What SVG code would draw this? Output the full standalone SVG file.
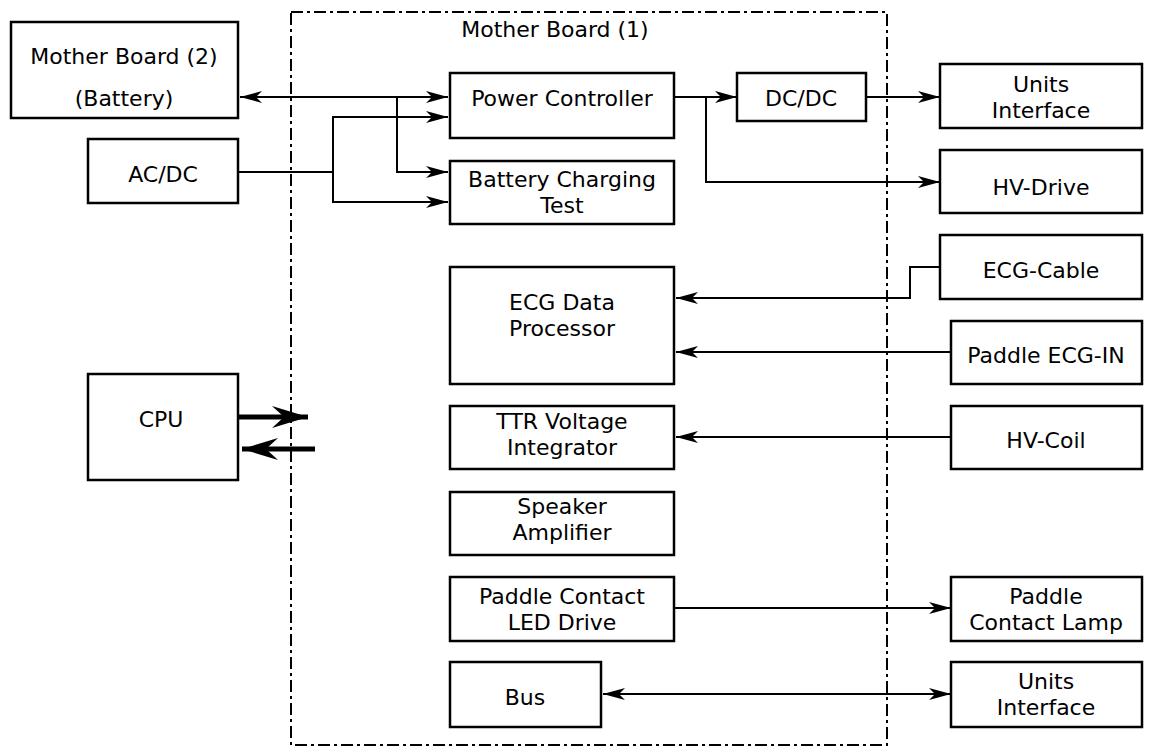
<svg xmlns="http://www.w3.org/2000/svg" width="1154" height="749" viewBox="0 0 1154 749">
<style>
.b{fill:#fff;stroke:#000;stroke-width:2.5}
.t{font-family:"DejaVu Sans","Open Sans",sans-serif;font-size:22px;fill:#000;text-anchor:middle}
.c{fill:none;stroke:#000;stroke-width:2}
.k{fill:none;stroke:#000;stroke-width:5}
.f{fill:none;stroke:#000;stroke-width:2;stroke-dasharray:12 4 3 4}
</style>
<defs>
<marker id="a" viewBox="0 0 22 12" refX="22" refY="6" markerWidth="22" markerHeight="12" markerUnits="userSpaceOnUse" orient="auto-start-reverse">
<path d="M0,0 L22,6 L0,12 L6,6 Z" fill="#000"/>
</marker>
<marker id="ak" viewBox="0 0 36 22" refX="36" refY="11" markerWidth="36" markerHeight="22" markerUnits="userSpaceOnUse" orient="auto">
<path d="M0,0 L36,11 L0,22 L12,11 Z" fill="#000"/>
</marker>
</defs>
<rect class="f" x="291" y="12" width="596" height="733"/>
<text class="t" x="555" y="37">Mother Board (1)</text>
<g id="connectors">
<path class="c" d="M240,97 H448" marker-start="url(#a)" marker-end="url(#a)"/>
<path class="c" d="M397,97 V172 H448" marker-end="url(#a)"/>
<path class="c" d="M238,172 H333"/>
<path class="c" d="M448,117 H333 V202 H448" marker-start="url(#a)" marker-end="url(#a)"/>
<path class="c" d="M674,97 H737" marker-end="url(#a)"/>
<path class="c" d="M706,97 V182 H940" marker-end="url(#a)"/>
<path class="c" d="M866,97 H940" marker-end="url(#a)"/>
<path class="c" d="M940,267 H910 V298 H676" marker-end="url(#a)"/>
<path class="c" d="M951,352 H676" marker-end="url(#a)"/>
<path class="c" d="M951,437 H676" marker-end="url(#a)"/>
<path class="c" d="M674,608 H951" marker-end="url(#a)"/>
<path class="c" d="M603,694 H951" marker-start="url(#a)" marker-end="url(#a)"/>
<path class="k" d="M238,417 H308" marker-end="url(#ak)"/>
<path class="k" d="M315,449 H242" marker-end="url(#ak)"/>
</g>
<g id="mb2"><rect class="b" x="11" y="22" width="227" height="96"/><text class="t" x="124" y="64">Mother Board (2)</text><text class="t" x="124" y="106">(Battery)</text></g>
<g id="acdc"><rect class="b" x="88" y="139" width="150" height="64"/><text class="t" x="163" y="182">AC/DC</text></g>
<g id="cpu"><rect class="b" x="88" y="374" width="150" height="106"/><text class="t" x="161" y="427">CPU</text></g>
<g id="pc"><rect class="b" x="450" y="73" width="224" height="65"/><text class="t" x="562" y="106">Power Controller</text></g>
<g id="bct"><rect class="b" x="450" y="161" width="224" height="63"/><text class="t" x="562" y="187">Battery Charging</text><text class="t" x="562" y="213">Test</text></g>
<g id="dcdc"><rect class="b" x="737" y="73" width="129" height="48"/><text class="t" x="801" y="106">DC/DC</text></g>
<g id="ui1"><rect class="b" x="940" y="64" width="202" height="64"/><text class="t" x="1041" y="92">Units</text><text class="t" x="1041" y="118">Interface</text></g>
<g id="hvd"><rect class="b" x="940" y="150" width="202" height="63"/><text class="t" x="1041" y="195">HV-Drive</text></g>
<g id="ecgc"><rect class="b" x="940" y="235" width="202" height="64"/><text class="t" x="1041" y="278">ECG-Cable</text></g>
<g id="ecgd"><rect class="b" x="450" y="267" width="224" height="117"/><text class="t" x="562" y="310">ECG Data</text><text class="t" x="562" y="336">Processor</text></g>
<g id="pein"><rect class="b" x="951" y="321" width="191" height="63"/><text class="t" x="1046" y="363">Paddle ECG-IN</text></g>
<g id="ttr"><rect class="b" x="450" y="406" width="224" height="63"/><text class="t" x="562" y="429">TTR Voltage</text><text class="t" x="562" y="455">Integrator</text></g>
<g id="hvc"><rect class="b" x="951" y="406" width="191" height="63"/><text class="t" x="1046" y="448">HV-Coil</text></g>
<g id="spk"><rect class="b" x="450" y="492" width="224" height="63"/><text class="t" x="562" y="514">Speaker</text><text class="t" x="562" y="540">Amplifier</text></g>
<g id="pcl"><rect class="b" x="450" y="577" width="224" height="64"/><text class="t" x="562" y="604">Paddle Contact</text><text class="t" x="562" y="630">LED Drive</text></g>
<g id="pclamp"><rect class="b" x="951" y="577" width="191" height="64"/><text class="t" x="1046" y="604">Paddle</text><text class="t" x="1046" y="630">Contact Lamp</text></g>
<g id="bus"><rect class="b" x="450" y="662" width="151" height="65"/><text class="t" x="525" y="705">Bus</text></g>
<g id="ui2"><rect class="b" x="951" y="662" width="191" height="65"/><text class="t" x="1046" y="689">Units</text><text class="t" x="1046" y="715">Interface</text></g>
</svg>
